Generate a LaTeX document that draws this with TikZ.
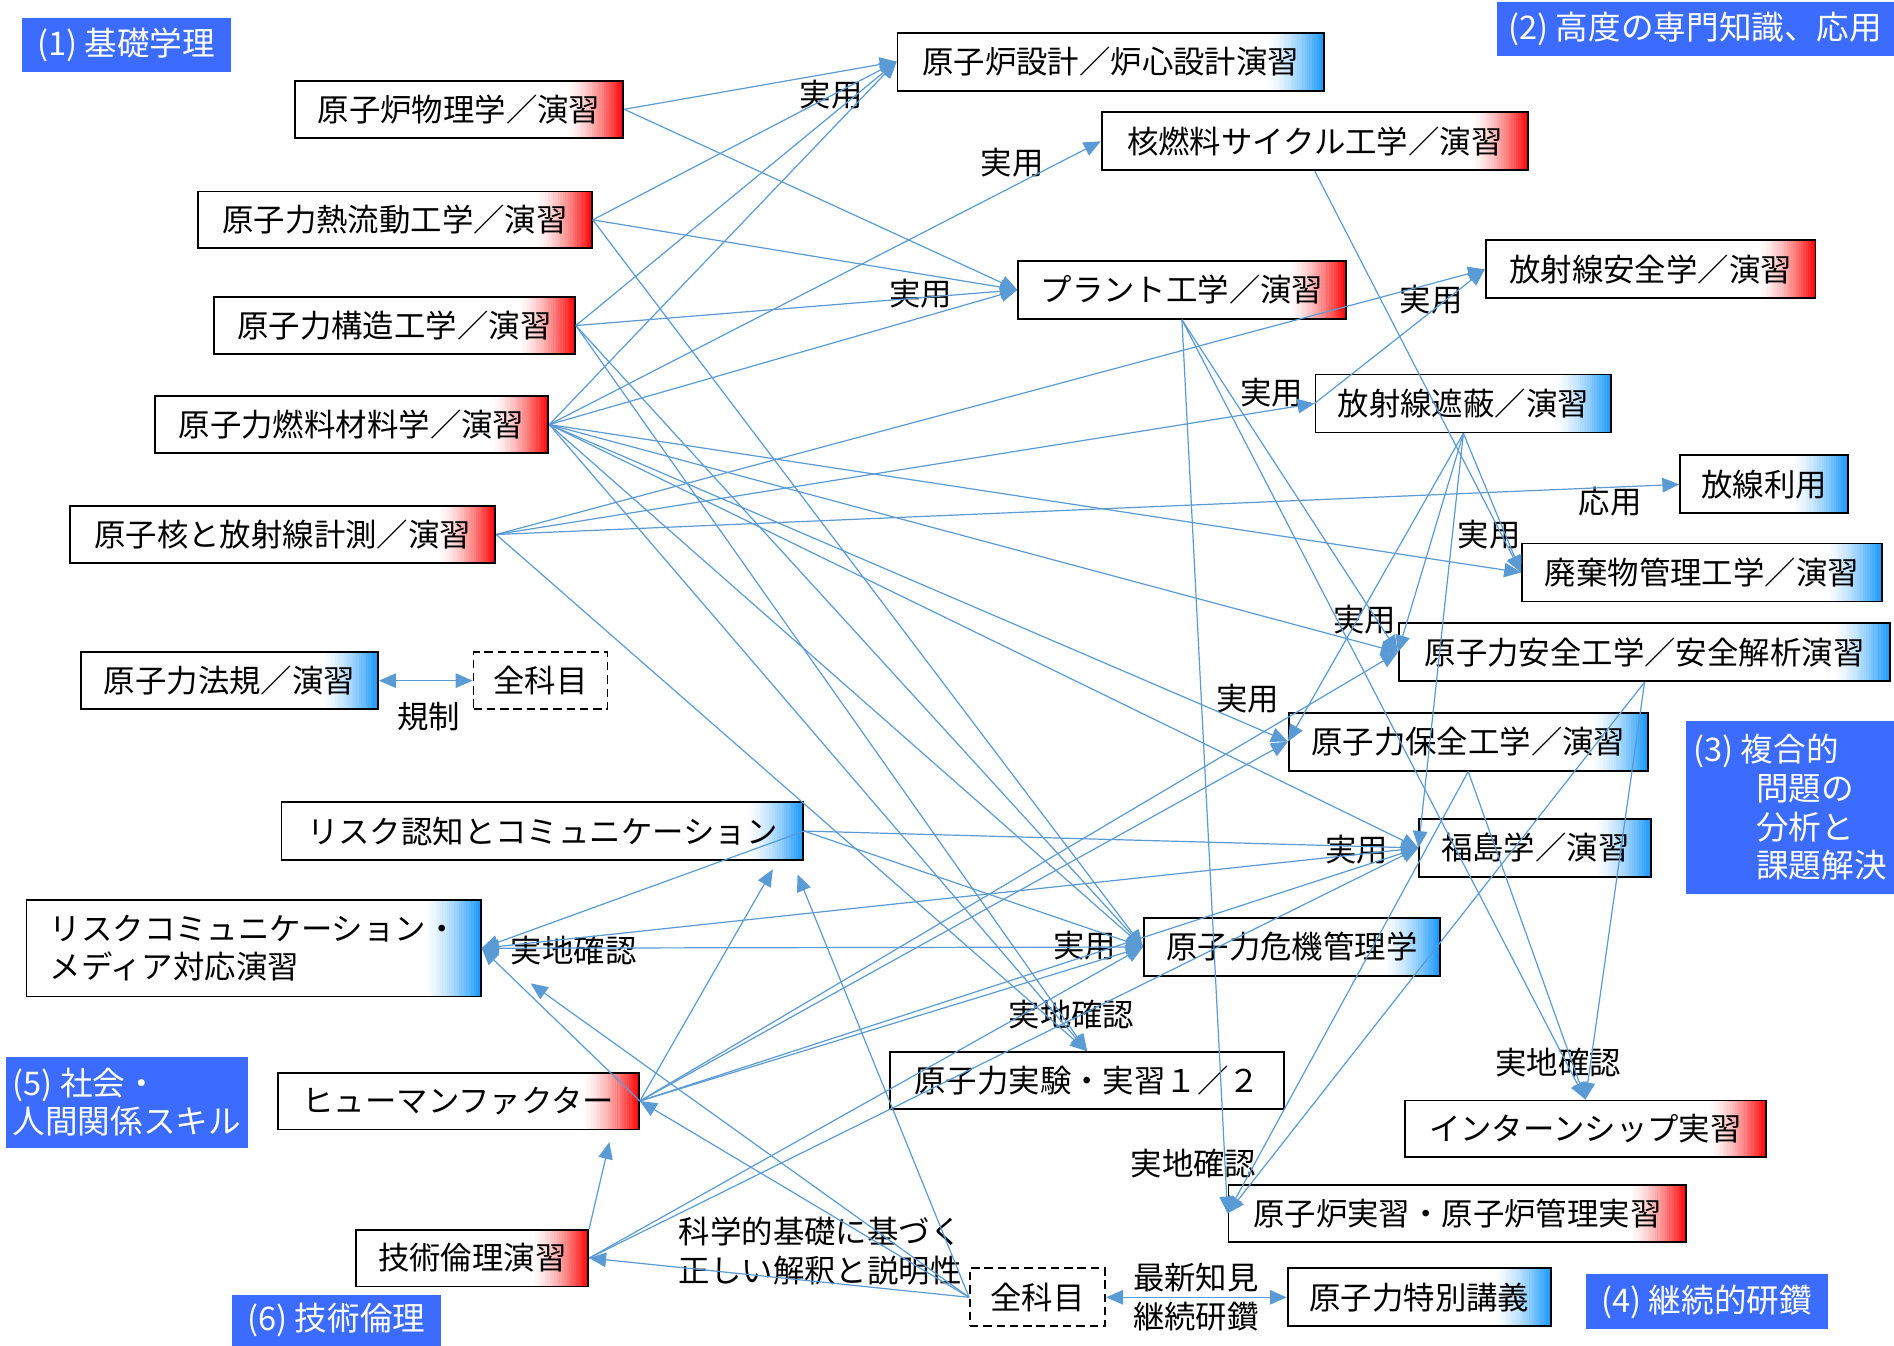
\documentclass[tikz,border=0pt]{standalone}
\usepackage{fontspec}
\setmainfont{Noto Sans CJK JP}
\usetikzlibrary{arrows.meta}
\definecolor{lineblue}{RGB}{91,155,213}
\definecolor{catblue}{RGB}{59,108,255}
\definecolor{gradred}{RGB}{255,0,0}
\definecolor{gradblue}{RGB}{20,150,255}
\newcommand{\gradstrips}[1]{%
  \foreach \i in {0,...,23}{%
    \pgfmathtruncatemacro{\p}{100*((\i+0.5)/24)^1.5}%
    \fill[#1!\p!white] ([xshift=\i*2pt-48pt]path picture bounding box.north east) rectangle ([xshift=\i*2pt-45.5pt]path picture bounding box.south east);}}
\begin{document}
\begin{tikzpicture}[x=1pt,y=-1pt,
  txt/.style={font=\fontsize{26}{32}\selectfont},
  base/.style={txt,draw=black,line width=1.5pt,fill=white,inner sep=0pt,minimum height=47pt},
  gradr/.style={base,path picture={\gradstrips{gradred}}},
  gradb/.style={base,path picture={\gradstrips{gradblue}}},
  allbox/.style={base,dash pattern=on 7pt off 4pt},
  cat/.style={font=\fontsize{27}{32}\selectfont,fill=catblue,text=white,inner sep=0pt},
  lbl/.style={txt,inner sep=0pt},
  conn/.style={draw=lineblue,line width=1pt},
  arr/.style={conn,-{Triangle[length=14pt,width=12pt]}},
  darr/.style={conn,{Triangle[length=14pt,width=12pt]}-{Triangle[length=14pt,width=12pt]}}
]
\useasboundingbox[fill=white] (0,0) rectangle (1568,1114);

% category labels
\node[cat,minimum width=173pt,minimum height=45pt] (c1) at (104.5,37.5) {(1) 基礎学理};
\node[cat,minimum width=329pt,minimum height=44pt] (c2) at (1403.5,24) {(2) 高度の専門知識、応用};
\node[cat,minimum width=172pt,minimum height=143pt,align=left] (c3) at (1482,668.5) {(3) 複合的\\\hspace*{52pt}問題の\\\hspace*{52pt}分析と\\\hspace*{52pt}課題解決};
\node[cat,minimum width=200pt,minimum height=45pt] (c4) at (1413,1077.5) {(4) 継続的研鑽};
\node[cat,minimum width=200pt,minimum height=75pt,align=left] (c5) at (105,912.5) {(5) 社会・\\人間関係スキル};
\node[cat,minimum width=173pt,minimum height=42pt] (c6) at (278.5,1093) {(6) 技術倫理};

% course boxes
\node[gradr,minimum width=272pt] (nA) at (380,90.5) {原子炉物理学／演習};
\node[gradr,minimum width=326pt] (nB) at (327,182) {原子力熱流動工学／演習};
\node[gradr,minimum width=299pt] (nC) at (326.5,269.5) {原子力構造工学／演習};
\node[gradr,minimum width=326pt] (nD) at (291,351.5) {原子力燃料材料学／演習};
\node[gradr,minimum width=352pt] (nE) at (234,442.5) {原子核と放射線計測／演習};
\node[gradb,minimum width=246pt] (nF) at (190,563.5) {原子力法規／演習};
\node[allbox,minimum width=111pt] (nG) at (447.5,563.5) {全科目};
\node[gradb,minimum width=432pt,minimum height=48pt] (nH) at (449,688) {リスク認知とコミュニケーション};
\node[gradb,minimum width=376pt,minimum height=80pt,align=left] (nI) at (210,785) {リスクコミュニケーション・\\メディア対応演習};
\node[gradr,minimum width=299pt] (nJ) at (379.5,911.5) {ヒューマンファクター};
\node[gradr,minimum width=192pt] (nK) at (391,1041.5) {技術倫理演習};
\node[gradb,minimum width=353pt,minimum height=48pt] (nM) at (919.5,51) {原子炉設計／炉心設計演習};
\node[gradr,minimum width=353pt,minimum height=48pt] (nN) at (1088.5,117) {核燃料サイクル工学／演習};
\node[gradr,minimum width=271pt,minimum height=48pt] (nP) at (978.5,240) {プラント工学／演習};
\node[gradr,minimum width=273pt,minimum height=48pt] (nQ) at (1366.5,223) {放射線安全学／演習};
\node[gradb,minimum width=245pt,minimum height=48pt] (nR) at (1211.5,334) {放射線遮蔽／演習};
\node[gradb,minimum width=139pt,minimum height=48pt] (nS) at (1460.5,401) {放線利用};
\node[gradb,minimum width=298pt,minimum height=48pt] (nT) at (1409,474) {廃棄物管理工学／演習};
\node[gradb,minimum width=407pt,minimum height=48pt] (nU) at (1361.5,540) {原子力安全工学／安全解析演習};
\node[gradb,minimum width=297pt,minimum height=48pt] (nV) at (1215.5,614) {原子力保全工学／演習};
\node[gradb,minimum width=192pt,minimum height=48pt] (nW) at (1271,702) {福島学／演習};
\node[gradb,minimum width=245pt,minimum height=48pt] (nX) at (1069.5,784) {原子力危機管理学};
\node[base,minimum width=326pt] (nY) at (900,894.5) {原子力実験・実習１／２};
\node[gradr,minimum width=299pt] (nZ) at (1312.5,934.5) {インターンシップ実習};
\node[gradr,minimum width=379pt] (nAA) at (1206.5,1004.5) {原子炉実習・原子炉管理実習};
\node[allbox,minimum width=112pt,minimum height=48pt] (nAB) at (859,1074) {全科目};
\node[gradb,minimum width=218pt,minimum height=48pt] (nAC) at (1175,1074) {原子力特別講義};

% edge labels
\node[lbl] (t1) at (688,78) {実用};
\node[lbl] (t2) at (838,135) {実用};
\node[lbl] (t3) at (762,243) {実用};
\node[lbl] (t4) at (1185,248) {実用};
\node[lbl] (t5) at (1053,325) {実用};
\node[lbl] (t6) at (1333,415) {応用};
\node[lbl] (t7) at (1233,443) {実用};
\node[lbl] (t8) at (1130,513) {実用};
\node[lbl] (t9) at (1033,578) {実用};
\node[lbl] (t10) at (1123,703) {実用};
\node[lbl] (t11) at (898,783) {実用};
\node[lbl] (t12) at (887,840) {実地確認};
\node[lbl] (t13) at (475,787) {実地確認};
\node[lbl] (t14) at (1290,880) {実地確認};
\node[lbl] (t15) at (988,963) {実地確認};
\node[lbl] (t16) at (355,593) {規制};
\node[lbl,align=left] (t17) at (679,1036) {科学的基礎に基づく\\正しい解釈と説明性};
\node[lbl,align=left] (t18) at (990,1074) {最新知見\\継続研鑽};

% connectors from (1)
\draw[arr] (nA.east) -- (nM.west);
\draw[arr] (nA.east) -- (nP.west);
\draw[arr] (nB.east) -- (nM.west);
\draw[arr] (nB.east) -- (nP.west);
\draw[arr] (nB.east) -- (nX.west);
\draw[arr] (nC.east) -- (nM.west);
\draw[arr] (nC.east) -- (nP.west);
\draw[arr] (nC.east) -- (nX.west);
\draw[arr] (nC.east) -- (nY.north);
\draw[arr] (nD.east) -- (nM.west);
\draw[arr] (nD.east) -- (nN.west);
\draw[arr] (nD.east) -- (nP.west);
\draw[arr] (nD.east) -- (nT.west);
\draw[arr] (nD.east) -- (nU.west);
\draw[arr] (nD.east) -- (nV.west);
\draw[arr] (nD.east) -- (nW.west);
\draw[arr] (nD.east) -- (nX.west);
\draw[arr] (nD.east) -- (nY.north);
\draw[arr] (nE.east) -- (nQ.west);
\draw[arr] (nE.east) -- (nR.west);
\draw[arr] (nE.east) -- (nS.west);
\draw[arr] (nE.east) -- (nY.north);

% connectors among (2)/(3)/(4)
\draw[arr] (nR.west) -- (nQ.west);
\draw[arr] (nN.south) -- (nT.west);
\draw[arr] (nR.south) -- (nT.west);
\draw[arr] (nR.south) -- (nU.west);
\draw[arr] (nR.south) -- (nV.west);
\draw[arr] (nR.south) -- (nW.west);
\draw[arr] (nP.south) -- (nU.west);
\draw[arr] (nP.south) -- (nZ.north);
\draw[arr] (nP.south) -- (nAA.west);
\draw[arr] (nV.south) -- (nZ.north);
\draw[arr] (nV.south) -- (nAA.west);
\draw[arr] (nU.south) -- (nZ.north);
\draw[arr] (nU.south) -- (nAA.west);

% connectors from (5)/(6)
\draw[arr] (nH.east) -- (nW.west);
\draw[arr] (nH.east) -- (nX.west);
\draw[arr] (nH.east) -- (nI.east);
\draw[darr] (nI.east) -- (nX.west);
\draw[darr] (nI.east) -- (nW.west);
\draw[arr] (nJ.east) -- (nU.west);
\draw[arr] (nJ.east) -- (nV.west);
\draw[arr] (nJ.east) -- (nW.west);
\draw[arr] (nJ.east) -- (nX.west);
\draw[arr] (nJ.east) -- (nI.east);
\draw[arr,shorten >=8pt] (nJ.east) -- ([xshift=-22pt]nH.south east);
\draw[arr] (nK.east) -- (nX.west);
\draw[arr] (nK.east) -- (nW.west);
\draw[arr,shorten >=10pt] (nK.north east) -- ([xshift=-23pt]nJ.south east);
\draw[arr] (nAB.west) -- (nK.east);
\draw[arr] (nAB.west) -- (nJ.east);
\draw[arr,shorten >=50pt] (nAB.west) -- (nI.east);
\draw[arr,shorten >=12pt] (nAB.west) -- ([xshift=-10pt]nH.south east);
\draw[darr] (nAB.east) -- (nAC.west);
\draw[darr] (nF.east) -- (nG.west);
\end{tikzpicture}
\end{document}
